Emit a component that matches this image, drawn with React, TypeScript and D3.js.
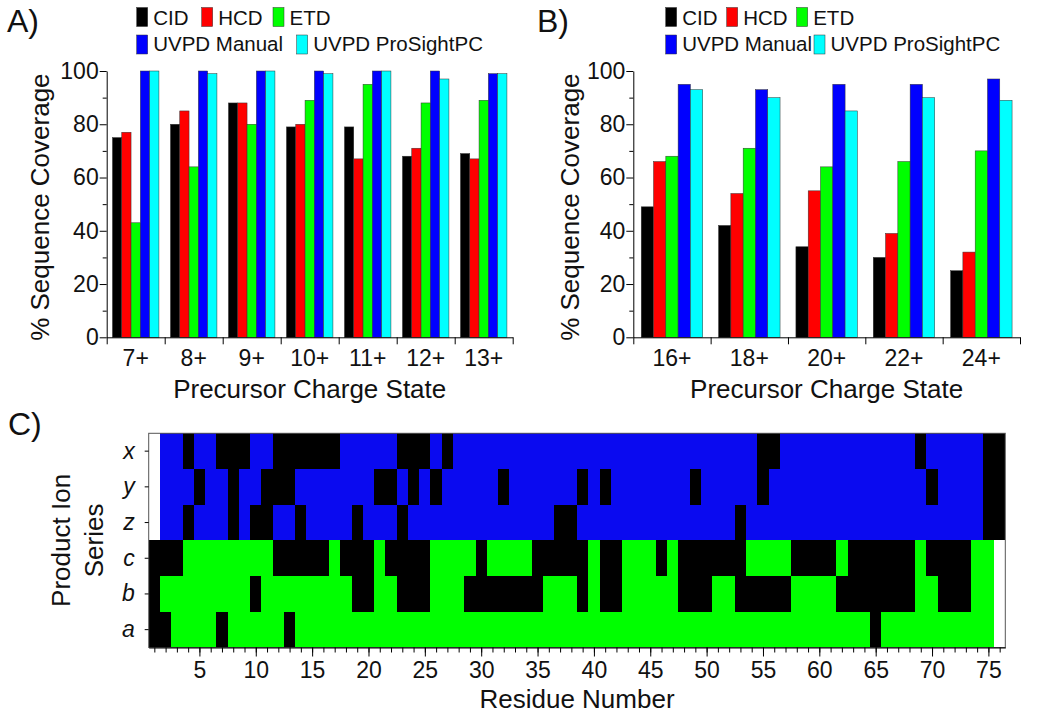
import { useEffect, useRef } from 'react';
import * as d3 from 'd3';

const FONT = '"Liberation Sans", Arial, Helvetica, sans-serif';

// fragmentation methods shared by both bar panels
const methods = ['CID', 'HCD', 'ETD', 'UVPD Manual', 'UVPD ProSightPC'];
const methodColors = ['#000000', '#ff0000', '#00ff00', '#0000ff', '#00ffff'];

// Panel A: % sequence coverage per precursor charge state
const chargesA = ['7+', '8+', '9+', '10+', '11+', '12+', '13+'];
const cidA = [75, 80, 88, 79, 79, 68, 69];
const hcdA = [77, 85, 88, 80, 67, 71, 67];
const etdA = [43, 64, 80, 89, 95, 88, 89];
const uvpdManualA = [100, 100, 100, 100, 100, 100, 99];
const uvpdProsightA = [100, 99, 100, 99, 100, 97, 99];

// Panel B
const chargesB = ['16+', '18+', '20+', '22+', '24+'];
const cidB = [49, 42, 34, 30, 25];
const hcdB = [66, 54, 55, 39, 32];
const etdB = [68, 71, 64, 66, 70];
const uvpdManualB = [95, 93, 95, 95, 97];
const uvpdProsightB = [93, 90, 85, 90, 89];

const coverageTicks = [0, 20, 40, 60, 80, 100];
const coverageMinorTicks = [10, 30, 50, 70, 90];

// Panel C: product ion map, residues with no ion observed (black)
const ionSeries = ['x', 'y', 'z', 'c', 'b', 'a'];
const residueCount = 76;
const residueTicks = [5, 10, 15, 20, 25, 30, 35, 40, 45, 50, 55, 60, 65, 70, 75];
const missedX = [4, 7, 8, 9, 12, 13, 14, 15, 16, 17, 23, 24, 25, 27, 55, 56, 69, 75, 76];
const missedY = [5, 8, 11, 12, 13, 21, 22, 24, 26, 32, 39, 41, 49, 55, 70, 75, 76];
const missedZ = [4, 8, 10, 11, 14, 19, 23, 37, 38, 53, 75, 76];
const missedC = [1, 2, 3, 12, 13, 14, 15, 16, 18, 19, 20, 22, 23, 24, 25, 30, 35, 36, 37, 38, 39, 41, 42, 46,
  48, 49, 50, 51, 52, 53, 58, 59, 60, 61, 63, 64, 65, 66, 67, 68, 70, 71, 72, 73];
const missedB = [1, 10, 19, 20, 23, 24, 25, 29, 30, 31, 32, 33, 34, 35, 39, 41, 42, 48, 49, 50, 53, 54, 55,
  56, 57, 62, 63, 64, 65, 66, 67, 68, 71, 72, 73];
const missedA = [1, 2, 7, 13, 65];
// cells where the ion type does not exist (blank)
const blankCTerm = [1];
const blankNTerm = [76];

const ionColors = { cterm: '#0a0af0', nterm: '#00ff00', missed: '#000000', blank: '#ffffff' };

function drawBarPanel(svg, p) {
  const g = svg.append('g');
  const x = d3.scaleBand().domain(p.categories).range([p.left, p.right]);
  const inner = d3.scaleBand().domain(methods).range([0, x.bandwidth()]).paddingOuter(p.outer);
  const y = d3.scaleLinear().domain([0, 100]).range([p.bottom, p.top]);

  p.series.forEach((vals, mi) => {
    g.append('g').selectAll('rect').data(vals).join('rect')
      .attr('x', (_, i) => x(p.categories[i]) + inner(methods[mi]))
      .attr('y', d => y(d))
      .attr('width', inner.bandwidth())
      .attr('height', d => y(0) - y(d))
      .attr('fill', methodColors[mi])
      .attr('stroke', '#333')
      .attr('stroke-width', 0.5);
  });

  // y axis, major + minor ticks
  g.append('g').attr('transform', `translate(${p.left},0)`)
    .call(d3.axisLeft(y).tickValues(coverageTicks).tickSize(7).tickPadding(1).tickSizeOuter(0));
  const minor = g.append('g').attr('transform', `translate(${p.left},0)`)
    .call(d3.axisLeft(y).tickValues(coverageMinorTicks).tickSize(4).tickFormat(() => '').tickSizeOuter(0));
  minor.select('.domain').remove();

  // ticks between categories
  const edges = d3.scaleLinear().domain([0, p.categories.length]).range([p.left, p.right]);
  g.append('g').attr('transform', `translate(0,${p.bottom})`)
    .call(d3.axisBottom(edges).tickValues(d3.range(p.categories.length + 1)).tickSize(7).tickFormat(() => '').tickSizeOuter(0));

  // category labels
  const xl = g.append('g').attr('transform', `translate(0,${p.bottom})`)
    .call(d3.axisBottom(x).tickSize(0));
  xl.select('.domain').remove();
  xl.selectAll('text').attr('y', 29).attr('dy', 0);

  g.selectAll('.tick text').attr('font-size', 23).attr('font-family', FONT).attr('fill', '#111');

  // axis titles
  g.append('text')
    .attr('transform', `translate(${p.yTitleX},${(p.top + p.bottom) / 2 + 3}) rotate(-90)`)
    .attr('text-anchor', 'middle').attr('font-size', 26).attr('font-family', FONT).attr('fill', '#111')
    .text('% Sequence Coverage');
  g.append('text')
    .attr('x', (p.left + p.right) / 2).attr('y', 398)
    .attr('text-anchor', 'middle').attr('font-size', 26).attr('font-family', FONT).attr('fill', '#111')
    .text('Precursor Charge State');

  // panel letter
  g.append('text').attr('x', p.letterX).attr('y', 32)
    .attr('font-size', 32).attr('font-family', FONT).attr('fill', '#111').text(p.letter);

  // legend
  p.legend.forEach(([lx, row], mi) => {
    g.append('rect').attr('x', lx).attr('y', 7.5 + row * 27.5).attr('width', 11).attr('height', 19)
      .attr('fill', methodColors[mi]).attr('stroke', '#333').attr('stroke-width', 0.5);
    g.append('text').attr('x', lx + 16.5).attr('y', 25 + row * 26)
      .attr('font-size', 20.5).attr('font-family', FONT).attr('fill', '#111').text(methods[mi]);
  });
}

function drawIonMap(svg) {
  const g = svg.append('g');
  const left = 148.7, right = 1005.3, top = 433.3, bottom = 647.5;
  const hx = d3.scaleLinear().domain([0.5, residueCount + 0.5]).range([left, right]);
  const hy = d3.scaleBand().domain(ionSeries).range([top, bottom]);
  const residues = d3.range(1, residueCount + 1);

  const missed = { x: missedX, y: missedY, z: missedZ, c: missedC, b: missedB, a: missedA };
  const cterm = ['x', 'y', 'z'];
  const cells = [];
  ionSeries.forEach(ion => {
    const isC = cterm.includes(ion);
    const blanks = isC ? blankCTerm : blankNTerm;
    residues.forEach(r => {
      let state = isC ? 'cterm' : 'nterm';
      if (missed[ion].includes(r)) state = 'missed';
      if (blanks.includes(r)) state = 'blank';
      cells.push({ ion, r, state });
    });
  });

  // snap cell edges to whole pixels so neighbouring cells meet without seams
  const cx = r => Math.round(hx(r));
  const cy = ion => Math.round(hy(ion));
  g.append('g').attr('shape-rendering', 'crispEdges')
    .selectAll('rect').data(cells).join('rect')
    .attr('x', d => cx(d.r - 0.5))
    .attr('y', d => cy(d.ion))
    .attr('width', d => cx(d.r + 0.5) - cx(d.r - 0.5))
    .attr('height', d => Math.round(hy(d.ion) + hy.bandwidth()) - cy(d.ion))
    .attr('fill', d => ionColors[d.state]);

  g.append('rect').attr('x', left).attr('y', top).attr('width', right - left).attr('height', bottom - top)
    .attr('fill', 'none').attr('stroke', '#555').attr('stroke-width', 1);

  // x axis
  g.append('g').attr('transform', `translate(0,${bottom})`)
    .call(d3.axisBottom(hx).tickValues(residues).tickSize(5).tickFormat(() => '').tickSizeOuter(0));
  const major = g.append('g').attr('transform', `translate(0,${bottom})`)
    .call(d3.axisBottom(hx).tickValues(residueTicks).tickSize(9).tickSizeOuter(0));
  major.select('.domain').remove();
  major.selectAll('text').attr('y', 30).attr('dy', 0);

  // y axis
  const ya = g.append('g').attr('transform', `translate(${left},0)`)
    .call(d3.axisLeft(hy).tickSize(4).tickPadding(10).tickSizeOuter(0));
  ya.select('.domain').remove();
  ya.selectAll('text').attr('font-style', 'italic');

  g.selectAll('.tick text').attr('font-size', 23).attr('font-family', FONT).attr('fill', '#111');

  const yTitle = g.append('text')
    .attr('transform', `translate(0,${(top + bottom) / 2}) rotate(-90)`)
    .attr('text-anchor', 'middle').attr('font-size', 26).attr('font-family', FONT).attr('fill', '#111');
  yTitle.append('tspan').attr('x', 0).attr('y', 70).text('Product Ion');
  yTitle.append('tspan').attr('x', 0).attr('y', 103).text('Series');

  g.append('text').attr('x', (left + right) / 2).attr('y', 708)
    .attr('text-anchor', 'middle').attr('font-size', 26).attr('font-family', FONT).attr('fill', '#111')
    .text('Residue Number');

  g.append('text').attr('x', 8).attr('y', 435)
    .attr('font-size', 32).attr('font-family', FONT).attr('fill', '#111').text('C)');
}

export default function App() {
  const svgRef = useRef(null);

  useEffect(() => {
    const svg = d3.select(svgRef.current);
    svg.selectAll('*').remove();

    drawBarPanel(svg, {
      categories: chargesA,
      series: [cidA, hcdA, etdA, uvpdManualA, uvpdProsightA],
      left: 106.7, right: 512.7, top: 71, bottom: 337.3, outer: 0.62,
      yTitleX: 49, letter: 'A)', letterX: 7,
      legend: [[136.7, 0], [201.7, 0], [273, 0], [136.7, 1], [296.7, 1]],
    });
    drawBarPanel(svg, {
      categories: chargesB,
      series: [cidB, hcdB, etdB, uvpdManualB, uvpdProsightB],
      left: 633.3, right: 1020, top: 71, bottom: 337.3, outer: 0.645,
      yTitleX: 579, letter: 'B)', letterX: 537,
      legend: [[665.7, 0], [726.7, 0], [796.7, 0], [665.7, 1], [814, 1]],
    });
    drawIonMap(svg);
  }, []);

  return (
    <svg ref={svgRef} width={1050} height={714}
      style={{ position: 'absolute', left: 0, top: 0, background: '#fff' }} />
  );
}
